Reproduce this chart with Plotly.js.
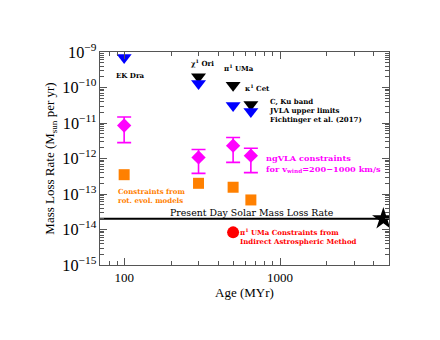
<!DOCTYPE html>
<html><head><meta charset="utf-8">
<script src="https://cdn.plot.ly/plotly-3.0.1.min.js"></script>
<style>body{margin:0;background:#fff}#c{width:440px;height:340px}</style>
</head><body><div id="c"></div>
<script>
// ---- data ----
const ages = [100, 300, 500, 650];
const ngvlaMid = [8.5e-12, 1.07e-12, 2.3e-12, 1.2e-12];
const ngvlaHi  = [1.48e-11, 1.8e-12, 3.9e-12, 1.95e-12];
const ngvlaLo  = [2.8e-12, 3.8e-13, 7.8e-13, 4.0e-13];
const rotEvol  = [3.5e-13, 2.0e-13, 1.55e-13, 6.8e-14];
const blueAges = [100, 300, 500, 650];
const blueLim  = [7e-10, 1.3e-10, 3.1e-11, 2.1e-11];
const blackAges = [300, 500, 650];
const blackLim  = [2e-10, 1.15e-10, 3.3e-11];
const astroAge = [500];
const astroVal = [8.3e-15];
const sunAge = [4600];
const sunRate = [2e-14];
const lineAges = [70, 5000];
const xTickVals = [100, 1000];
const xTickText = ['100', '1000'];

const F = 'Liberation Serif, DejaVu Serif, serif';
const FA = 'DejaVu Serif, serif';
const magenta = '#ff00ff', orange = '#ff8000', blue = '#0000ff', red = '#ff0000';

const traces = [
  {x: lineAges, y: [sunRate[0], sunRate[0]], mode: 'lines', line: {color: '#000', width: 2}},
  {x: ages, y: rotEvol, mode: 'markers', marker: {symbol: 'square', size: 11, color: orange}},
  {x: ages, y: ngvlaMid, mode: 'markers',
   marker: {symbol: 'diamond', size: 11, color: magenta},
   error_y: {type: 'data', symmetric: false,
     array: ngvlaHi.map((h, i) => h - ngvlaMid[i]),
     arrayminus: ngvlaLo.map((l, i) => ngvlaMid[i] - l),
     color: magenta, thickness: 1.6, width: 7}},
  {x: blackAges, y: blackLim, mode: 'markers', marker: {symbol: 'triangle-down', size: 13, color: '#000'}},
  {x: blueAges, y: blueLim, mode: 'markers', marker: {symbol: 'triangle-down', size: 13, color: blue}},
  {x: astroAge, y: astroVal, mode: 'markers', marker: {symbol: 'circle', size: 12, color: red}},
  {x: sunAge, y: sunRate, mode: 'markers', marker: {symbol: 'star', size: 17, color: '#000'}}
];

function ann(text, px, py, color, size, anchor, weight) {
  return {text: text, xref: 'paper', yref: 'paper',
    x: (px - 100) / 289, y: (265 - py) / 213, xanchor: anchor || 'left', yanchor: 'middle',
    showarrow: false, align: 'left',
    font: {family: FA, size: size, color: color, weight: weight || 'bold'}};
}

const axBase = {
  ticks: 'inside', ticklen: 7, tickcolor: '#555', showline: true, linecolor: '#555', linewidth: 1,
  mirror: 'ticks', showgrid: false, zeroline: false, tickfont: {family: F, size: 13}
};

const layout = {
  width: 440, height: 340,
  margin: {l: 100, r: 51, t: 52, b: 75},
  paper_bgcolor: '#fff', plot_bgcolor: '#fff',
  showlegend: false,
  font: {family: F, color: '#000', size: 12},
  xaxis: Object.assign({}, axBase, {type: 'log', range: [Math.log10(70), Math.log10(5000)],
    tickvals: xTickVals, ticktext: xTickText,
    minor: {ticks: 'inside', ticklen: 4, tickcolor: '#555', showgrid: false, dtick: 'D1'},
    title: {text: 'Age (MYr)', font: {family: F, size: 13}, standoff: 4}}),
  yaxis: Object.assign({}, axBase, {type: 'log', range: [-15, -9], dtick: 1, exponentformat: 'power',
    minor: {ticks: 'inside', ticklen: 4, tickcolor: '#555', showgrid: false, dtick: 'D1'},
    title: {text: 'Mass Loss Rate (M<sub>sun</sub> per yr)', font: {family: F, size: 13}, standoff: 4}}),
  annotations: [
    ann('EK Dra', 130, 75, '#000', 7, 'center'),
    ann('χ<sup>1</sup> Ori', 202, 63, '#000', 7, 'center'),
    ann('π<sup>1</sup> UMa', 239, 68, '#000', 7, 'center'),
    ann('κ<sup>1</sup> Cet', 243, 88, '#000', 7, 'left'),
    ann('C, Ku band<br>JVLA upper limits<br>Fichtinger et al. (2017)', 267, 110, '#000', 7, 'left'),
    ann('ngVLA constraints<br>for v<sub>wind</sub>=200−1000 km/s', 264, 163, magenta, 8.2, 'left'),
    ann('Constraints from<br>rot. evol. models', 116, 196, orange, 7, 'left'),
    ann('Present Day Solar Mass Loss Rate', 252, 212, '#000', 9.4, 'center', 'normal'),
    ann('π<sup>1</sup> UMa Constraints from<br>Indirect Astrospheric Method', 238, 236, red, 7, 'left')
  ]
};

Plotly.newPlot('c', traces, layout, {staticPlot: true, displayModeBar: false});
</script></body></html>
